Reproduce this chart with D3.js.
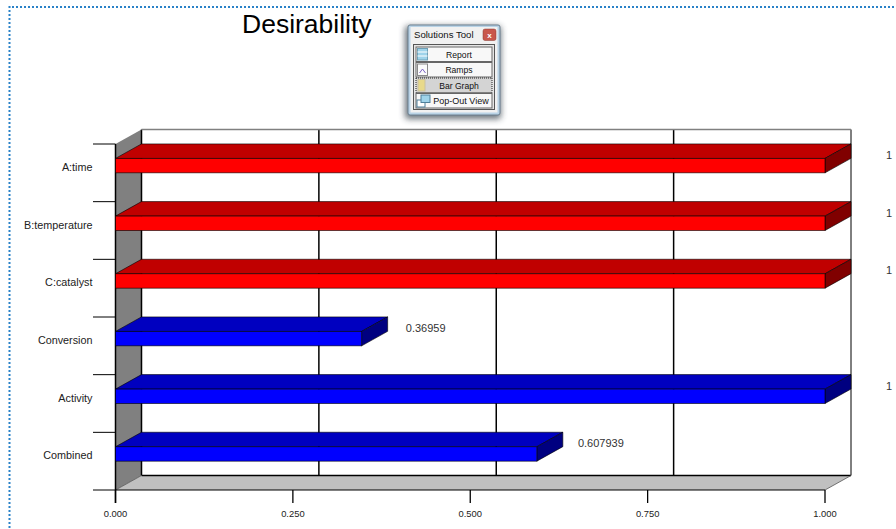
<!DOCTYPE html>
<html>
<head>
<meta charset="utf-8">
<script src="https://cdnjs.cloudflare.com/ajax/libs/d3/7.8.5/d3.min.js"></script>
<style>
html,body{margin:0;padding:0;background:#fff;overflow:hidden}
svg{display:block}
text{font-family:"Liberation Sans",Arial,sans-serif}
</style>
</head>
<body>
<svg id="chart" width="896" height="529"></svg>
<script>
// Desirability values per factor/response
const categories = ["A:time","B:temperature","C:catalyst","Conversion","Activity","Combined"];
const values = [1,1,1,0.36959,1,0.607939];
const valueLabels = ["1","1","1","0.36959","1","0.607939"];
const barKinds = ["factor","factor","factor","response","response","response"];
const axisTicks = [0,0.25,0.5,0.75,1];
const toolButtons = ["Report","Ramps","Bar Graph","Pop-Out View"];

const svg = d3.select("#chart");

// Plot frame and oblique projection depth
const plotLeft = 115.5, plotRight = 825, plotTop = 144, plotBottom = 490;
const dx = 26, dy = -14.5;

const x = d3.scaleLinear().domain([0,1]).range([plotLeft,plotRight]);
// Bar lengths run on their own scale and are cut off at the wall
const barX = d3.scaleLinear().domain([0,1]).range([90,plotRight]);
const band = d3.scaleBand().domain(categories).range([plotTop,plotBottom]);
const barTop = c => band(c) + band.bandwidth()*0.25;
const barH = band.bandwidth()*0.25;

const palette = {
  factor:  {front:"#ff0000", top:"#c00000", side:"#800000"},
  response:{front:"#0000ff", top:"#0000c0", side:"#000080"}
};
const pts = a => a.map(p => p.join(",")).join(" ");

// Page selection outline
svg.append("line").attr("x1",12).attr("x2",896).attr("y1",7).attr("y2",7)
  .attr("stroke","#2a82c8").attr("stroke-width",2).attr("stroke-dasharray","2 2");
svg.append("line").attr("x1",9.5).attr("x2",9.5).attr("y1",6).attr("y2",529)
  .attr("stroke","#2a82c8").attr("stroke-width",2).attr("stroke-dasharray","2 2");

svg.append("text").attr("x",242).attr("y",33).attr("font-size",26.5).attr("fill","#000").text("Desirability");

// Left wall and floor
const g = svg.append("g");
g.append("polygon")
  .attr("points",pts([[plotLeft,plotTop],[plotLeft+dx,plotTop+dy],[plotLeft+dx,plotBottom+dy],[plotLeft,plotBottom]]))
  .attr("fill","#808080");
g.append("polygon")
  .attr("points",pts([[plotLeft,plotBottom],[plotLeft+dx,plotBottom+dy],[plotRight+dx,plotBottom+dy],[plotRight,plotBottom]]))
  .attr("fill","#c0c0c0");

// Back-wall gridlines
g.selectAll("line.grid").data(axisTicks).join("line").attr("class","grid")
  .attr("x1",d=>x(d)+dx).attr("x2",d=>x(d)+dx)
  .attr("y1",plotTop+dy).attr("y2",plotBottom+dy)
  .attr("stroke","#000").attr("stroke-width",d=>d===1?1:1.5);
g.append("line").attr("x1",plotLeft+dx).attr("x2",plotRight+dx).attr("y1",plotTop+dy).attr("y2",plotTop+dy)
  .attr("stroke","#808080").attr("stroke-width",1.5);
g.append("line").attr("x1",plotLeft+dx).attr("x2",plotRight+dx).attr("y1",plotBottom+dy).attr("y2",plotBottom+dy)
  .attr("stroke","#000").attr("stroke-width",1.5);
g.append("line").attr("x1",plotLeft).attr("x2",plotLeft+dx).attr("y1",plotBottom).attr("y2",plotBottom+dy)
  .attr("stroke","#555").attr("stroke-width",.8);
g.append("line").attr("x1",plotRight).attr("x2",plotRight+dx).attr("y1",plotBottom).attr("y2",plotBottom+dy)
  .attr("stroke","#555").attr("stroke-width",.8);

// Category axis, ticks at band edges
const edges = categories.map(c=>band(c)).concat([plotBottom]);
g.selectAll("line.ytick").data(edges).join("line").attr("class","ytick")
  .attr("x1",plotLeft-22.5).attr("x2",plotLeft).attr("y1",d=>d).attr("y2",d=>d)
  .attr("stroke","#000").attr("stroke-width",1);
g.append("line").attr("x1",plotLeft).attr("x2",plotLeft).attr("y1",plotTop).attr("y2",plotBottom+13)
  .attr("stroke","#000").attr("stroke-width",1.5);
g.append("line").attr("x1",plotLeft).attr("x2",plotRight).attr("y1",plotBottom).attr("y2",plotBottom)
  .attr("stroke","#000").attr("stroke-width",1.2);
g.selectAll("text.cat").data(categories).join("text").attr("class","cat")
  .attr("x",92.5).attr("y",d=>band(d)+band.bandwidth()*0.4+3.8)
  .attr("text-anchor","end").attr("font-size",10.8).attr("fill","#222")
  .text(d=>d);

// Value axis
g.selectAll("line.xtick").data(axisTicks).join("line").attr("class","xtick")
  .attr("x1",d=>x(d)).attr("x2",d=>x(d)).attr("y1",plotBottom).attr("y2",plotBottom+13)
  .attr("stroke","#000").attr("stroke-width",1.3);
g.selectAll("text.xlab").data(axisTicks).join("text").attr("class","xlab")
  .attr("x",d=>x(d)).attr("y",516.5).attr("text-anchor","middle")
  .attr("font-size",9.4).attr("fill","#222").text(d3.format(".3f"));

// Oblique bars
const bars = g.selectAll("g.bar").data(categories).join("g").attr("class","bar");
bars.each(function(c,i){
  const s = d3.select(this), col = palette[barKinds[i]];
  const yt = barTop(c), yb = yt+barH, xe = barX(values[i]);
  s.append("polygon").attr("points",pts([[plotLeft,yt],[plotLeft+dx,yt+dy],[xe+dx,yt+dy],[xe,yt]]))
    .attr("fill",col.top).attr("stroke","#000").attr("stroke-width",.8).attr("stroke-opacity",.75);
  s.append("polygon").attr("points",pts([[xe,yt],[xe+dx,yt+dy],[xe+dx,yb+dy],[xe,yb]]))
    .attr("fill",col.side).attr("stroke","#000").attr("stroke-width",.8).attr("stroke-opacity",.75);
  s.append("rect").attr("x",plotLeft).attr("y",yt).attr("width",xe-plotLeft).attr("height",barH)
    .attr("fill",col.front).attr("stroke","#000").attr("stroke-width",.8).attr("stroke-opacity",.75);
  s.append("text").attr("x",xe+dx+38).attr("y",yt+0.5)
    .attr("text-anchor","middle").attr("font-size",11).attr("fill","#333")
    .text(valueLabels[i]);
});

// Floating tool window
const defs = svg.append("defs");
defs.append("filter").attr("id","soft").attr("x","-30%").attr("y","-30%").attr("width","160%").attr("height","160%")
  .append("feGaussianBlur").attr("stdDeviation",3);
const win = svg.append("g").attr("transform","translate(408,25)");
win.append("rect").attr("x",-3).attr("y",1).attr("width",96).attr("height",93).attr("rx",3)
  .attr("fill","#2f3a44").attr("opacity",.7).attr("filter","url(#soft)");
win.append("rect").attr("width",92).attr("height",90).attr("rx",2)
  .attr("fill","#b9d3e6").attr("stroke","#6a7f8f");
win.append("rect").attr("x",2.5).attr("y",2).attr("width",87).attr("height",85.5)
  .attr("fill","#f1f1f1");
win.append("rect").attr("x",5.5).attr("y",19.5).attr("width",81).attr("height",65)
  .attr("fill","#e6e6e6").attr("stroke","#555");
win.append("text").attr("x",6).attr("y",13).attr("font-size",9.6).attr("fill","#111").text("Solutions Tool");
win.append("rect").attr("x",75).attr("y",4).attr("width",13).attr("height",11.5).attr("rx",2).attr("fill","#c8574c").attr("stroke","#8a3b33").attr("stroke-width",.5);
win.append("text").attr("x",81.5).attr("y",12.5).attr("text-anchor","middle").attr("font-size",8).attr("font-weight","bold").attr("fill","#fff").text("x");

const btn = win.selectAll("g.btn").data(toolButtons).join("g").attr("class","btn")
  .attr("transform",(d,i)=>`translate(8,${22+i*15.5})`);
btn.append("rect").attr("width",76).attr("height",14.5)
  .attr("fill",(d,i)=>i===2?"#d4d4d4":"#f8f8f8").attr("stroke",(d,i)=>i===2?"#222":"#666")
  .attr("stroke-dasharray",(d,i)=>i===2?"1 1":null);
// Button glyphs
btn.filter((d,i)=>i===0).append("rect").attr("x",1.5).attr("y",1.5).attr("width",10).attr("height",11.5)
  .attr("fill","#9fd3ea").attr("stroke","#6f9fb5");
btn.filter((d,i)=>i===0).selectAll("line").data([5,9]).join("line")
  .attr("x1",1.5).attr("x2",11.5).attr("y1",d=>d).attr("y2",d=>d).attr("stroke","#fff");
btn.filter((d,i)=>i===1).append("rect").attr("x",1.5).attr("y",1.5).attr("width",10).attr("height",11.5)
  .attr("fill","#fbfbfb").attr("stroke","#8a8a8a");
btn.filter((d,i)=>i===1).append("polyline").attr("points","3.5,10.5 6.5,6.5 9.5,10.5")
  .attr("fill","none").attr("stroke","#7c62c4");
btn.filter((d,i)=>i===2).append("rect").attr("x",2).attr("y",1.5).attr("width",7).attr("height",11.5)
  .attr("fill","#e8d98a").attr("stroke","#c9c0a0");
btn.filter((d,i)=>i===3).append("rect").attr("x",1).attr("y",6.5).attr("width",8).attr("height",7)
  .attr("fill","#fff").attr("stroke","#4f7f9a");
btn.filter((d,i)=>i===3).append("rect").attr("x",5).attr("y",1.5).attr("width",9).attr("height",7.5)
  .attr("fill","#9fd3ea").attr("stroke","#4f7f9a");
btn.append("text").attr("x",(d,i)=>i===3?45:43).attr("y",10.5)
  .attr("text-anchor","middle").attr("font-size",(d,i)=>i===3?9:8.6).attr("fill","#111").text(d=>d);
</script>
</body>
</html>
